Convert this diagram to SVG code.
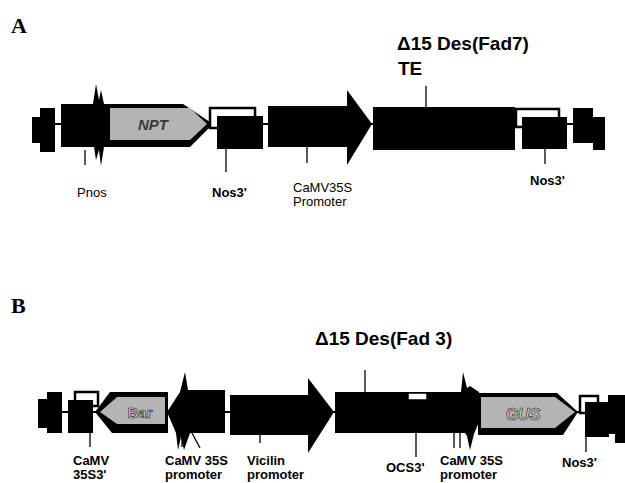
<svg xmlns="http://www.w3.org/2000/svg" width="625" height="483" viewBox="0 0 625 483">
<style>
.blk{fill:#000}
.bb{stroke:#000;stroke-width:2;fill:none}
.tk{stroke:#000;stroke-width:1.3;fill:none}
.ol{fill:#fff;stroke:#000;stroke-width:2.5}
.gray{fill:#b4b4b4}
.lbl{font-family:"Liberation Sans",Arial,sans-serif;font-size:13px;fill:#000}
.lb{font-family:"Liberation Sans",Arial,sans-serif;font-size:13px;font-weight:bold;fill:#000}
.hd{font-family:"Liberation Sans",Arial,sans-serif;font-size:19px;font-weight:bold;fill:#000}
.pn{font-family:"Liberation Serif","Times New Roman",serif;font-size:22px;font-weight:bold;fill:#000}
.gn{font-family:"Liberation Sans",Arial,sans-serif;font-weight:bold;text-anchor:middle}
.it{font-style:italic}
</style>
<rect width="625" height="483" fill="#fff"/>
<text class="pn" x="11" y="33">A</text>
<text class="pn" x="11" y="313">B</text>

<g id="connectors">
<line class="bb" x1="32" y1="124" x2="605" y2="124"/>
<line class="bb" x1="38" y1="412" x2="625" y2="412"/>
<line class="tk" x1="85" y1="150" x2="85" y2="165"/>
<line class="tk" x1="226" y1="149" x2="226" y2="172"/>
<line class="tk" x1="307" y1="147" x2="307" y2="163"/>
<line class="tk" x1="426" y1="86" x2="426" y2="107"/>
<line class="tk" x1="545" y1="149" x2="545" y2="164"/>
<line class="tk" x1="90" y1="433" x2="90" y2="447"/>
<line class="tk" x1="182" y1="433" x2="182" y2="447"/>
<line class="tk" x1="192" y1="433" x2="200" y2="448"/>
<line class="tk" x1="260" y1="435" x2="260" y2="443"/>
<line class="tk" x1="365" y1="370" x2="365" y2="392"/>
<line class="tk" x1="416" y1="433" x2="416" y2="457"/>
<line class="tk" x1="454" y1="433" x2="454" y2="448"/>
<line class="tk" x1="460" y1="433" x2="460" y2="448"/>
<line class="tk" x1="586" y1="437" x2="586" y2="452"/>
</g>

<g id="A-left-block"><path class="blk" d="M32,117H40V108H55V152H40V143H32Z"/></g>
<g id="A-pnos">
<rect class="blk" x="61" y="104" width="50" height="43"/>
<path class="blk" d="M93,104L96,84L99,100L101,90L104,104L104,147L101,166L99,150L96,160L94,147Z"/>
<text class="lbl" x="77" y="197">Pnos</text>
</g>
<g id="A-npt">
<path class="blk" d="M106,104H183L213,124L190,147H106Z"/>
<path class="gray" d="M110,108H190L207,124L190,140H110Z"/>
<text class="gn it" x="153" y="130" font-size="15" fill="#3a3a3a">NPT</text>
</g>
<g id="A-nos3-1">
<rect class="ol" x="210" y="108" width="45" height="20"/>
<rect class="blk" x="217" y="116" width="46" height="33"/>
<text class="lb" x="212" y="197">Nos3'</text>
</g>
<g id="A-camv">
<rect class="blk" x="268" y="106" width="81" height="41"/>
<path class="blk" d="M347,90L372,124L347,165Z"/>
<text class="lbl" x="293" y="192">CaMV35S</text>
<text class="lbl" x="293" y="206">Promoter</text>
</g>
<g id="A-fad7">
<rect class="blk" x="373" y="107" width="142" height="43"/>
<text class="hd" x="397" y="50">Δ15 Des(Fad7)</text>
<text class="hd" x="398" y="75">TE</text>
</g>
<g id="A-nos3-2">
<rect class="ol" x="516" y="109" width="43" height="18"/>
<rect class="blk" x="522" y="117" width="45" height="32"/>
<text class="lb" x="530" y="185">Nos3'</text>
</g>
<g id="A-right-block"><path class="blk" d="M573,108H593V117H605V150H593V143H573Z"/></g>

<g id="B-left-block"><path class="blk" d="M38,399H47V392H62V433H47V428H38Z"/></g>
<g id="B-camv3">
<rect class="ol" x="75" y="392" width="23" height="14"/>
<rect class="blk" x="68" y="400" width="25" height="33"/>
<text class="lb" x="73" y="465">CaMV</text>
<text class="lb" x="73" y="479">35S3'</text>
</g>
<g id="B-bar">
<path class="blk" d="M95,412L110,392H168V433H112Z"/>
<path class="gray" d="M100,412L117,397H165V424H117Z"/>
<text class="gn" x="140" y="418" font-size="15" fill="#c8c8c8" stroke="#222" stroke-width="0.6">Bar</text>
</g>
<g id="B-camv-1">
<path class="blk" d="M167,412L180,392L185,372L188,390H225V433H190L184,450L181,437L178,450L176,433Z"/>
<text class="lb" x="165" y="465">CaMV 35S</text>
<text class="lb" x="165" y="479">promoter</text>
</g>
<g id="B-vicilin">
<rect class="blk" x="230" y="395" width="80" height="40"/>
<path class="blk" d="M308,378L334,412L308,453Z"/>
<text class="lb" x="247" y="465">Vicilin</text>
<text class="lb" x="247" y="479">promoter</text>
</g>
<g id="B-fad3">
<rect class="blk" x="335" y="392" width="96" height="41"/>
<rect fill="#fff" stroke="#000" stroke-width="1.5" x="408" y="393" width="19" height="7"/>
<text class="hd" x="315" y="345">Δ15 Des(Fad 3)</text>
</g>
<g id="B-ocs3"><text class="lb" x="386" y="472">OCS3'</text></g>
<g id="B-camv-2">
<path class="blk" d="M430,392H461L463,372L467,388L470,386L479,392L483,412L474,434L470,450L467,436L465,433H430Z"/>
<text class="lb" x="440" y="465">CaMV 35S</text>
<text class="lb" x="440" y="479">promoter</text>
</g>
<g id="B-gus">
<path class="blk" d="M478,393H557L578,412L563,435H478Z"/>
<path class="gray" d="M481,397H555L575,412L555,428H481Z"/>
<text class="gn it" x="523" y="420" font-size="16" fill="#c8c8c8" stroke="#222" stroke-width="0.6">GUS</text>
</g>
<g id="B-nos3">
<rect class="ol" x="580" y="396" width="18" height="17"/>
<rect class="blk" x="585" y="402" width="24" height="35"/>
<text class="lb" x="562" y="467">Nos3'</text>
</g>
<g id="B-right-block"><path class="blk" d="M608,395H625V443H615V434H608Z"/></g>
</svg>
